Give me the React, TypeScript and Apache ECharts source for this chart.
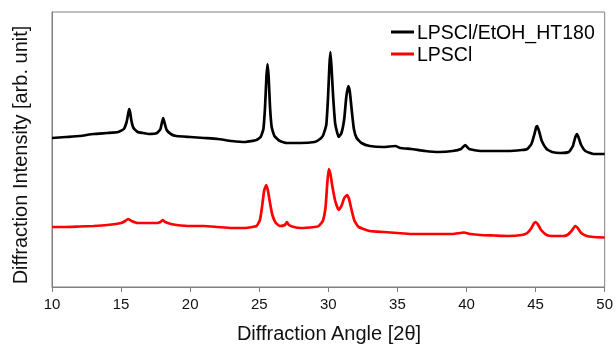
import React, { useEffect, useRef } from "react";
import * as echarts from "echarts";

const xTicks = [10, 15, 20, 25, 30, 35, 40, 45, 50];

const htAngles = [10, 11, 12, 13, 14, 14.8, 15.2, 15.4, 15.5, 15.58, 15.65, 15.75, 15.9, 16.2, 16.6, 17, 17.6, 17.85, 17.95, 18.05, 18.15, 18.3, 18.6, 19, 20, 21, 22, 23, 24, 24.8, 25.1, 25.3, 25.42, 25.52, 25.6, 25.68, 25.78, 25.9, 26.1, 26.5, 27, 28, 29, 29.3, 29.6, 29.85, 29.98, 30.08, 30.15, 30.23, 30.35, 30.5, 30.75, 30.95, 31.15, 31.3, 31.45, 31.55, 31.7, 31.85, 32.05, 32.4, 33, 34, 34.85, 35.2, 36, 37, 38, 39, 39.6, 39.9, 40.2, 41, 42, 43, 44, 44.4, 44.7, 44.9, 45.05, 45.12, 45.25, 45.45, 45.8, 46.2, 46.8, 47.4, 47.7, 47.88, 48.0, 48.1, 48.3, 48.6, 49.2, 50];
const htIntensity = [149, 150, 151, 153, 154, 155, 158, 165, 172, 178, 175, 166, 159, 155, 154, 153, 154, 158, 164, 169, 164, 157, 153, 151, 150, 149, 148, 146, 145, 147, 150, 158, 180, 210, 223, 210, 180, 160, 151, 146, 144, 144, 145, 147, 151, 162, 190, 222, 235, 220, 190, 163, 150, 154, 168, 190, 201, 196, 176, 158, 149, 144, 141, 140, 141, 139, 138, 136, 135, 136, 138, 142, 138, 136, 136, 136, 137, 138, 143, 152, 160, 161, 156, 146, 138, 135, 134, 135, 141, 150, 153, 150, 142, 136, 133, 133];

const rawAngles = [10, 11, 12, 13, 14, 15, 15.3, 15.5, 15.75, 16.2, 17, 17.6, 17.85, 18, 18.2, 18.6, 19, 20, 21, 22, 23, 24, 24.8, 25.05, 25.2, 25.35, 25.5, 25.62, 25.78, 25.95, 26.2, 26.5, 26.85, 27.0, 27.15, 27.5, 28, 29, 29.3, 29.6, 29.8, 29.93, 30.03, 30.15, 30.3, 30.5, 30.75, 30.95, 31.15, 31.35, 31.5, 31.7, 31.9, 32.2, 33, 34, 35, 36, 37, 38, 39, 39.8, 40.3, 41, 42, 43, 44, 44.4, 44.7, 44.9, 45.0, 45.15, 45.4, 45.8, 46.2, 47, 47.3, 47.6, 47.8, 47.9, 48.05, 48.3, 48.7, 49.2, 50];
const rawIntensity = [60, 60, 60.5, 61, 62, 64, 66, 68, 66, 64, 64, 64, 65, 67, 65, 63, 62, 61, 61, 60, 59, 59, 61, 67, 80, 96, 102, 97, 84, 72, 64, 61, 62, 65, 62, 60, 59, 60, 61, 66, 80, 105, 118, 113, 100, 86, 77, 81, 89, 92, 88, 76, 66, 60, 56, 55, 54, 53, 53, 53, 53, 54.5, 53, 52, 51.5, 51, 52, 54, 59, 64, 65, 63, 57, 52, 51, 51, 52, 56, 60, 61, 59, 54, 51, 50, 49.5];

const seriesNames = ["LPSCl/EtOH_HT180", "LPSCl"];

export default function App() {
  const ref = useRef<HTMLDivElement>(null);
  useEffect(() => {
    if (!ref.current) return;
    const chart = echarts.init(ref.current, undefined, { renderer: "svg" });
    const font = "Liberation Sans, Arial, sans-serif";
    chart.setOption({
      animation: false,
      textStyle: { fontFamily: font },
      grid: {
        left: 52,
        right: 9,
        top: 12,
        bottom: 62,
        show: true,
        borderColor: "#808080",
        borderWidth: 1,
      },
      legend: {
        orient: "vertical",
        left: 391,
        top: 22,
        padding: 0,
        itemGap: 2,
        itemWidth: 23,
        itemHeight: 3,
        icon: "rect",
        textStyle: { fontSize: 19.5, color: "#000", fontFamily: font, padding: [0, 0, 0, -2] },
        data: seriesNames,
      },
      xAxis: {
        type: "value",
        min: 10,
        max: 50,
        interval: 5,
        axisLine: { show: true, lineStyle: { color: "#808080", width: 1 } },
        axisTick: { show: true, length: 5, lineStyle: { color: "#808080" } },
        axisLabel: {
          fontSize: 15,
          color: "#111",
          margin: 9,
          fontFamily: font,
          customValues: xTicks,
          formatter: (v: number) => String(v),
        },
        splitLine: { show: false },
      },
      yAxis: {
        type: "value",
        min: 0,
        max: 275,
        axisLine: { show: true, lineStyle: { color: "#808080", width: 1 } },
        axisTick: { show: false },
        axisLabel: { show: false },
        splitLine: { show: false },
      },
      graphic: [
        {
          type: "text",
          x: 329,
          y: 333,
          style: {
            text: "Diffraction Angle [2θ]",
            font: `20px ${font}`,
            fill: "#111",
            textAlign: "center",
            textVerticalAlign: "middle",
          },
        },
        {
          type: "text",
          x: 20,
          y: 155,
          rotation: Math.PI / 2,
          style: {
            text: "Diffraction Intensity [arb. unit]",
            font: `20px ${font}`,
            fill: "#111",
            textAlign: "center",
            textVerticalAlign: "middle",
          },
        },
      ],
      series: [
        {
          name: seriesNames[0],
          type: "line",
          showSymbol: false,
          symbol: "none",
          smooth: 0.15,
          color: "#000000",
          lineStyle: { color: "#000000", width: 2.7 },
          data: htAngles.map((x, i) => [x, htIntensity[i]]),
        },
        {
          name: seriesNames[1],
          type: "line",
          showSymbol: false,
          symbol: "none",
          smooth: 0.15,
          color: "#ff0000",
          lineStyle: { color: "#ff0000", width: 2.7 },
          data: rawAngles.map((x, i) => [x, rawIntensity[i]]),
        },
      ],
    });
    return () => chart.dispose();
  }, []);
  return (
    <div
      ref={ref}
      style={{ position: "fixed", left: 0, top: 0, width: 616, height: 349, margin: 0 }}
    />
  );
}
